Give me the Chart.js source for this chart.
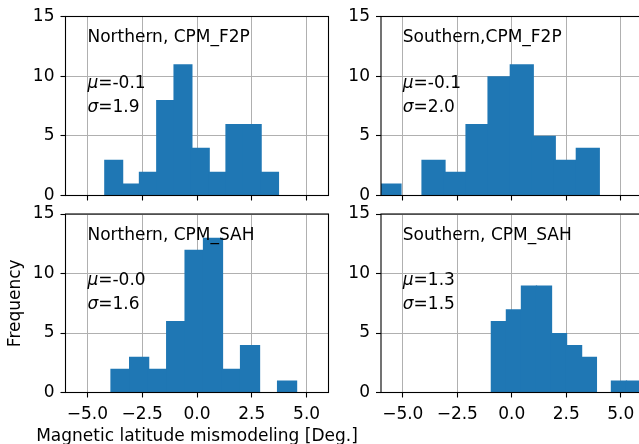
<!DOCTYPE html>
<html>
<head>
<meta charset="utf-8">
<script src="https://cdn.jsdelivr.net/npm/chart.js@4.4.0/dist/chart.umd.min.js"></script>
<style>
html, body { margin: 0; padding: 0; width: 639px; height: 444px; overflow: hidden; background: #fff; }
canvas { position: absolute; }
</style>
</head>
<body>
<canvas id="c1" width="335" height="205" style="left:0;top:0"></canvas>
<canvas id="c2" width="315" height="205" style="left:335px;top:0"></canvas>
<canvas id="c3" width="380" height="239" style="left:0;top:205px"></canvas>
<canvas id="c4" width="315" height="239" style="left:335px;top:205px"></canvas>
<script>
'use strict';
// data
var xTicks = [-5, -2.5, 0, 2.5, 5];
var yTicks = [0, 5, 10, 15];

var northF2PBins = [-3.80, -3.01, -2.22, -1.43, -0.64, 0.15, 0.94, 1.73, 2.52, 3.31];
var northF2PCounts = [3, 1, 2, 8, 11, 4, 2, 6, 6, 2];
var southF2PBins = [-5.61, -4.60, -3.59, -2.58, -1.57, -0.56, 0.46, 1.47, 2.48, 3.49];
var southF2PCounts = [1, 0, 3, 2, 6, 10, 11, 5, 3, 4];
var northSAHBins = [-3.49, -2.64, -1.80, -0.95, -0.11, 0.73, 1.58, 2.42, 3.26, 4.11];
var northSAHCounts = [2, 3, 2, 6, 12, 13, 2, 4, 0, 1];
var southSAHBins = [-0.59, 0.10, 0.79, 1.48, 2.17, 2.86, 3.54, 4.23, 4.92, 5.61];
var southSAHCounts = [6, 7, 9, 9, 5, 4, 3, 0, 1, 1];

var panelTitles = ['Northern, CPM_F2P', 'Southern,CPM_F2P', 'Northern, CPM_SAH', 'Southern, CPM_SAH'];
var panelMu = ['-0.1', '-0.1', '-0.0', '1.3'];
var panelSigma = ['1.9', '2.0', '1.6', '1.5'];
var xLabel = 'Magnetic latitude mismodeling [Deg.]';
var yLabel = 'Frequency';

var FONT = '"DejaVu Sans", sans-serif';
var FS = 17;
var BLUE = '#1f77b4';

function fmtX(v) {
  return (v < 0 ? '\u2212' : '') + Math.abs(v).toFixed(1);
}

// text boxes inside each panel, the x label and the black frame
var notePlugin = {
  id: 'note',
  afterDraw: function(chart, args, opts) {
    var ctx = chart.ctx;
    var xs = chart.scales.x, ys = chart.scales.y;
    var a = chart.chartArea;
    var x0 = xs.getPixelForValue(-5);
    ctx.save();
    ctx.fillStyle = '#000';
    ctx.textAlign = 'left';
    ctx.textBaseline = 'alphabetic';
    ctx.font = FS + 'px ' + FONT;
    ctx.fillText(panelTitles[opts.i], x0, ys.getPixelForValue(12.85));
    var lines = [['\u03bc', panelMu[opts.i], 9.0], ['\u03c3', panelSigma[opts.i], 7.0]];
    lines.forEach(function(l) {
      var y = ys.getPixelForValue(l[2]);
      ctx.font = 'italic ' + FS + 'px ' + FONT;
      ctx.fillText(l[0], x0, y);
      var w = ctx.measureText(l[0]).width;
      ctx.font = FS + 'px ' + FONT;
      ctx.fillText('=' + l[1], x0 + w, y);
    });
    if (opts.xTitle) {
      ctx.font = FS + 'px ' + FONT;
      ctx.textAlign = 'center';
      ctx.fillText(xLabel, (a.left + a.right) / 2, chart.height - 3);
    }
    ctx.strokeStyle = '#000';
    ctx.lineWidth = 1.1;
    ctx.strokeRect(a.left, a.top, a.right - a.left, a.bottom - a.top);
    ctx.restore();
  }
};

function makePanel(id, i, bins, counts, p) {
  var points = [];
  for (var k = 0; k < bins.length; k++) {
    points.push({x: bins[k], y: counts[k]});
  }
  var tickFont = {family: FONT, size: FS};
  return new Chart(document.getElementById(id), {
    type: 'bar',
    data: {
      datasets: [{
        data: points,
        backgroundColor: BLUE,
        borderColor: BLUE,
        borderWidth: 0,
        barPercentage: 1.1,
        categoryPercentage: 1,
        grouped: false
      }]
    },
    options: {
      responsive: false,
      animation: false,
      layout: {padding: {left: 0, right: p.pr, top: p.pt, bottom: 0}},
      plugins: {legend: {display: false}, tooltip: {enabled: false}, note: {i: i, xTitle: !!p.xTitle}},
      scales: {
        x: {
          type: 'linear', min: -6, max: 6, offset: false, z: 1,
          afterBuildTicks: function(s) { s.ticks = xTicks.map(function(v) { return {value: v}; }); },
          afterFit: function(s) { s.height = p.xh; s.paddingLeft = 0; s.paddingRight = 0; },
          grid: {offset: false, color: '#b0b0b0', lineWidth: 1, tickColor: '#000', tickWidth: 1.1, tickLength: 5},
          border: {display: false},
          ticks: {display: p.xLabels, padding: 7, color: '#000', font: tickFont, maxRotation: 0, autoSkip: false,
            callback: function(v) { return fmtX(v); }}
        },
        y: {
          min: 0, max: 15, z: 1,
          afterBuildTicks: function(s) { s.ticks = yTicks.map(function(v) { return {value: v}; }); },
          afterFit: function(s) { s.width = p.yw; s.paddingTop = 0; s.paddingBottom = 0; },
          grid: {color: '#b0b0b0', lineWidth: 1, tickColor: '#000', tickWidth: 1.1, tickLength: 5},
          border: {display: false},
          ticks: {padding: 6, color: '#000', font: tickFont, autoSkip: false,
            callback: function(v) { return String(v); }},
          title: {display: !!p.yTitle, text: yLabel, color: '#000',
            font: {family: FONT, size: FS, lineHeight: 1}, padding: {top: 7, bottom: 0}}
        }
      }
    },
    plugins: [notePlugin]
  });
}

makePanel('c1', 0, northF2PBins, northF2PCounts, {yw: 65.5, pr: 6.5, pt: 16.5, xh: 9.5, xLabels: false});
makePanel('c2', 1, southF2PBins, southF2PCounts, {yw: 46, pr: 7.5, pt: 16.5, xh: 9.5, xLabels: false});
makePanel('c3', 2, northSAHBins, northSAHCounts, {yw: 65.5, pr: 51.5, pt: 9, xh: 51.5, xLabels: true,
  xTitle: true, yTitle: true});
makePanel('c4', 3, southSAHBins, southSAHCounts, {yw: 46, pr: 7.5, pt: 9, xh: 51.5, xLabels: true});
</script>
</body>
</html>
